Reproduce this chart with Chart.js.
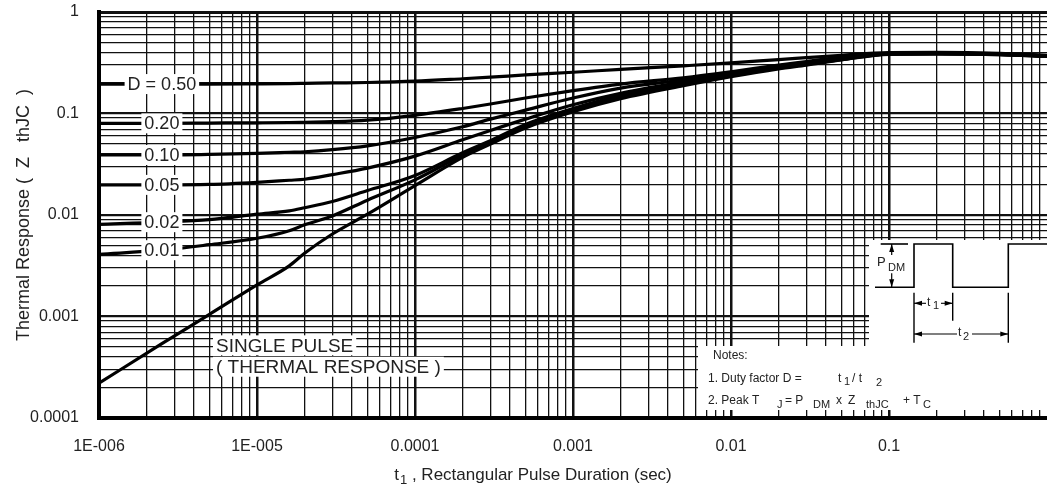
<!DOCTYPE html>
<html>
<head>
<meta charset="utf-8">
<script src="https://cdn.jsdelivr.net/npm/chart.js@4.4.1/dist/chart.umd.min.js"></script>
<style>
  html, body { margin: 0; padding: 0; background: #fff; }
  #wrap { position: relative; width: 1047px; height: 488px; }
</style>
</head>
<body>
<div id="wrap"><canvas id="thermalChart"></canvas></div>
<script>
// Pulse duration t1 (sec)
const pulseTimes = [1e-6, 2.5e-6, 5e-6, 1e-5, 1.6e-5, 2e-5, 3e-5, 5e-5, 1e-4, 2e-4, 3e-4, 5e-4,
  1e-3, 2e-3, 5e-3, 1e-2, 2e-2, 3e-2, 5e-2, 0.1, 0.2, 0.5, 1];

// Z thJC for each duty factor
const zD050 = [0.195, 0.195, 0.195, 0.196, 0.197, 0.198, 0.200, 0.202, 0.208, 0.220, 0.228, 0.240,
  0.255, 0.272, 0.295, 0.315, 0.340, 0.355, 0.375, 0.398, 0.400, 0.392, 0.375];
const zD020 = [0.080, 0.080, 0.0805, 0.081, 0.0815, 0.082, 0.083, 0.086, 0.096, 0.112, 0.124, 0.142,
  0.168, 0.195, 0.225, 0.258, 0.300, 0.325, 0.360, 0.392, 0.393, 0.388, 0.372];
const zD010 = [0.039, 0.039, 0.0395, 0.0405, 0.0415, 0.042, 0.044, 0.048, 0.058, 0.074, 0.088, 0.108,
  0.142, 0.178, 0.215, 0.252, 0.295, 0.320, 0.355, 0.390, 0.392, 0.386, 0.370];
const zD005 = [0.0198, 0.0198, 0.020, 0.021, 0.022, 0.0225, 0.025, 0.029, 0.038, 0.055, 0.068, 0.088,
  0.122, 0.158, 0.205, 0.245, 0.290, 0.315, 0.350, 0.388, 0.390, 0.384, 0.368];
const zD002 = [0.0081, 0.0085, 0.0090, 0.0102, 0.0110, 0.0118, 0.0136, 0.0174, 0.0245, 0.041, 0.054, 0.078,
  0.112, 0.150, 0.198, 0.240, 0.285, 0.310, 0.345, 0.387, 0.389, 0.383, 0.367];
const zD001 = [0.0041, 0.0045, 0.0051, 0.0059, 0.0070, 0.0080, 0.0098, 0.0140, 0.0222, 0.039, 0.052, 0.075,
  0.108, 0.145, 0.192, 0.235, 0.280, 0.305, 0.340, 0.385, 0.387, 0.381, 0.366];
const zSingle = [0.00022, 0.00054, 0.00105, 0.00205, 0.00315, 0.0042, 0.0065, 0.0102, 0.0195, 0.037, 0.050, 0.072,
  0.104, 0.140, 0.188, 0.230, 0.275, 0.300, 0.337, 0.383, 0.386, 0.380, 0.365];

const curveLabels = ['D = 0.50', '0.20', '0.10', '0.05', '0.02', '0.01'];
const singleLabels = ['SINGLE PULSE', '( THERMAL RESPONSE )'];

const xTickValues = [1e-6, 1e-5, 1e-4, 1e-3, 1e-2, 1e-1];
const xTickLabels = ['1E-006', '1E-005', '0.0001', '0.001', '0.01', '0.1'];
const yTickValues = [1e-4, 1e-3, 1e-2, 1e-1, 1];
const yTickLabels = ['0.0001', '0.001', '0.01', '0.1', '1'];

// x title is drawn in pieces so the "1" can be a subscript
const xTitleParts = ['t', '1', ' , Rectangular Pulse Duration (sec)'];
const yTitle = 'Thermal Response (  Z   thJC  )';

const FONT = "'Liberation Sans', Arial, Helvetica, sans-serif";
Chart.defaults.font.family = FONT;
Chart.defaults.color = '#222';

function isDecade(v) {
  const l = Math.log10(v);
  return Math.abs(l - Math.round(l)) < 1e-9;
}

// 1..9 x 10^n grid between min and max
function logGrid(min, max) {
  const out = [];
  for (let e = Math.floor(Math.log10(min)); e <= Math.ceil(Math.log10(max)); e++) {
    for (let m = 1; m <= 9; m++) {
      const v = m * Math.pow(10, e);
      if (v >= min * 0.999 && v <= max * 1.001) out.push(v);
    }
  }
  return out;
}

function findLabel(values, labels, v) {
  const i = values.findIndex(t => Math.abs(t - v) / t < 1e-6);
  return i >= 0 ? labels[i] : '';
}

const seriesZ = [zD050, zD020, zD010, zD005, zD002, zD001, zSingle];
const datasets = seriesZ.map(z => ({
  data: pulseTimes.map((t, i) => ({ x: t, y: z[i] })),
  showLine: true,
  borderColor: '#000',
  borderWidth: 3.2,
  pointRadius: 0,
  cubicInterpolationMode: 'monotone'
}));

function boxedText(ctx, text, cx, cy, font, align) {
  ctx.font = font;
  const w = ctx.measureText(text).width;
  const left = align === 'left' ? cx : cx - w / 2;
  ctx.fillStyle = '#fff';
  ctx.fillRect(left - 3, cy - 10, w + 6, 20);
  ctx.fillStyle = '#222';
  ctx.textAlign = 'left';
  ctx.textBaseline = 'middle';
  ctx.fillText(text, left, cy + 1);
}

function arrowHead(ctx, x, y, dir) {
  ctx.beginPath();
  if (dir === 'l') { ctx.moveTo(x, y); ctx.lineTo(x + 8, y - 2.5); ctx.lineTo(x + 8, y + 2.5); }
  if (dir === 'r') { ctx.moveTo(x, y); ctx.lineTo(x - 8, y - 2.5); ctx.lineTo(x - 8, y + 2.5); }
  if (dir === 'u') { ctx.moveTo(x, y); ctx.lineTo(x - 2.5, y + 8); ctx.lineTo(x + 2.5, y + 8); }
  if (dir === 'd') { ctx.moveTo(x, y); ctx.lineTo(x - 2.5, y - 8); ctx.lineTo(x + 2.5, y - 8); }
  ctx.closePath();
  ctx.fill();
}

function line(ctx, x1, y1, x2, y2) {
  ctx.beginPath();
  ctx.moveTo(x1, y1);
  ctx.lineTo(x2, y2);
  ctx.stroke();
}

const annotations = {
  id: 'annotations',
  afterDatasetsDraw(chart) {
    const { ctx, chartArea: area, scales: { x, y } } = chart;
    ctx.save();

    // duty factor labels sit on their curves (2.5E-006 point)
    curveLabels.forEach((text, i) => {
      const pt = chart.getDatasetMeta(i).data[1];
      boxedText(ctx, text, pt.x, pt.y, '18px ' + FONT, 'center');
    });

    // single pulse note
    const sx = x.getPixelForValue(5.5e-6);
    boxedText(ctx, singleLabels[0], sx, y.getPixelForValue(5.2e-4), '19px ' + FONT, 'left');
    boxedText(ctx, singleLabels[1], sx, y.getPixelForValue(3.2e-4), '19px ' + FONT, 'left');

    // white panels for the pulse sketch and notes
    const R = area.right, B = area.bottom;
    ctx.fillStyle = '#fff';
    ctx.fillRect(R - 178, B - 178, 178, 106);
    ctx.fillRect(R - 349, B - 72, 349, 64);

    // pulse sketch
    ctx.strokeStyle = '#000';
    ctx.fillStyle = '#000';
    ctx.lineWidth = 1.6;
    const base = B - 130.7, top = B - 174;
    ctx.beginPath();
    ctx.moveTo(R - 172, base);
    ctx.lineTo(R - 133, base);
    ctx.lineTo(R - 133, top);
    ctx.lineTo(R - 94.3, top);
    ctx.lineTo(R - 94.3, base);
    ctx.lineTo(R - 38.7, base);
    ctx.lineTo(R - 38.7, top);
    ctx.lineTo(R, top);
    ctx.stroke();
    line(ctx, R - 166.3, top, R - 139, top);

    ctx.lineWidth = 1.2;
    line(ctx, R - 155.3, top, R - 155.3, top + 11);
    line(ctx, R - 155.3, base - 14, R - 155.3, base);
    arrowHead(ctx, R - 155.3, top, 'u');
    arrowHead(ctx, R - 155.3, base, 'd');

    ctx.fillStyle = '#222';
    ctx.textAlign = 'left';
    ctx.textBaseline = 'middle';
    ctx.font = '13px ' + FONT;
    ctx.fillText('P', R - 170, B - 156);
    ctx.font = '11px ' + FONT;
    ctx.fillText('DM', R - 159, B - 150);

    // t1 / t2 dimension lines
    ctx.fillStyle = '#000';
    ctx.lineWidth = 1.4;
    line(ctx, R - 133, B - 125.3, R - 133, B - 75.3);
    line(ctx, R - 94.3, B - 125.3, R - 94.3, B - 97.3);
    line(ctx, R - 38.7, B - 125.3, R - 38.7, B - 75.3);
    ctx.lineWidth = 1.1;
    const t1y = B - 114.7, t2y = B - 84;
    line(ctx, R - 133, t1y, R - 121, t1y);
    line(ctx, R - 106, t1y, R - 94.3, t1y);
    arrowHead(ctx, R - 133, t1y, 'l');
    arrowHead(ctx, R - 94.3, t1y, 'r');
    line(ctx, R - 133, t2y, R - 90, t2y);
    line(ctx, R - 75, t2y, R - 38.7, t2y);
    arrowHead(ctx, R - 133, t2y, 'l');
    arrowHead(ctx, R - 38.7, t2y, 'r');

    ctx.fillStyle = '#222';
    ctx.font = '12px ' + FONT;
    ctx.fillText('t', R - 120, t1y - 1);
    ctx.fillText('t', R - 89, t2y - 1);
    ctx.font = '11px ' + FONT;
    ctx.fillText('1', R - 114, t1y + 3);
    ctx.fillText('2', R - 84, t2y + 3);

    // notes
    const n1 = B - 39, n2 = B - 17;
    ctx.font = '12px ' + FONT;
    ctx.fillText('Notes:', R - 334, B - 62);
    ctx.fillText('1. Duty factor D =', R - 339, n1);
    ctx.fillText('t', R - 209, n1);
    ctx.fillText('/ t', R - 195, n1);
    ctx.fillText('2. Peak T', R - 339, n2);
    ctx.fillText('= P', R - 262, n2);
    ctx.fillText('x', R - 211, n2);
    ctx.fillText('Z', R - 199, n2);
    ctx.fillText('+ T', R - 144, n2);
    ctx.font = '11px ' + FONT;
    ctx.fillText('1', R - 203, n1 + 3);
    ctx.fillText('2', R - 171, n1 + 4);
    ctx.fillText('J', R - 270, n2 + 4);
    ctx.fillText('DM', R - 234, n2 + 4);
    ctx.fillText('thJC', R - 181, n2 + 4);
    ctx.fillText('C', R - 124, n2 + 4);

    // x axis title, a little left of the plot centre as in the sheet
    const big = '17px ' + FONT, small = '13px ' + FONT;
    ctx.font = big;
    const w0 = ctx.measureText(xTitleParts[0]).width;
    const w2 = ctx.measureText(xTitleParts[2]).width;
    ctx.font = small;
    const w1 = ctx.measureText(xTitleParts[1]).width + 1;
    let tx = (area.left + area.right) / 2 - 40 - (w0 + w1 + w2) / 2;
    const ty = B + 57;
    ctx.font = big;
    ctx.fillText(xTitleParts[0], tx, ty);
    ctx.font = small;
    ctx.fillText(xTitleParts[1], tx + w0 + 1, ty + 5);
    ctx.font = big;
    ctx.fillText(xTitleParts[2], tx + w0 + w1, ty);

    ctx.restore();
  }
};

const xGrid = logGrid(1e-6, 0.9);
const yGrid = logGrid(1e-4, 1);

new Chart(document.getElementById('thermalChart'), {
  type: 'scatter',
  data: { datasets },
  options: {
    responsive: true,
    maintainAspectRatio: false,
    animation: false,
    layout: { padding: { top: 12, right: 0, bottom: 0, left: 0 } },
    plugins: { legend: { display: false }, tooltip: { enabled: false } },
    scales: {
      x: {
        type: 'logarithmic',
        min: 1e-6,
        max: 1,
        afterBuildTicks: scale => { scale.ticks = xGrid.map(v => ({ value: v })); },
        afterFit: scale => {
          scale.height = 70;
          scale.paddingLeft = 0;
          scale.paddingRight = 0;
        },
        grid: {
          color: '#111',
          lineWidth: ctx => (ctx.tick && isDecade(ctx.tick.value) ? 2.5 : 1.3),
          drawTicks: false
        },
        border: { display: true, color: '#000', width: 4 },
        ticks: {
          autoSkip: false,
          maxRotation: 0,
          padding: 19,
          font: { size: 16 },
          color: '#222',
          callback: v => findLabel(xTickValues, xTickLabels, v)
        },
        title: { display: false }
      },
      y: {
        type: 'logarithmic',
        min: 1e-4,
        max: 1,
        afterBuildTicks: scale => { scale.ticks = yGrid.map(v => ({ value: v })); },
        afterFit: scale => {
          scale.width = 99;
          scale.paddingTop = 0;
          scale.paddingBottom = 0;
        },
        grid: {
          color: '#111',
          lineWidth: ctx => {
            if (!ctx.tick) return 1.3;
            if (ctx.tick.value >= 0.999) return 3;
            return isDecade(ctx.tick.value) ? 2.2 : 1.3;
          },
          drawTicks: false
        },
        border: { display: true, color: '#000', width: 4 },
        ticks: {
          autoSkip: false,
          padding: 20,
          font: { size: 16 },
          color: '#222',
          callback: v => findLabel(yTickValues, yTickLabels, v)
        },
        title: {
          display: true,
          text: yTitle,
          font: { size: 18 },
          color: '#222',
          padding: { top: 13, bottom: 0 }
        }
      }
    }
  },
  plugins: [annotations]
});
</script>
</body>
</html>
